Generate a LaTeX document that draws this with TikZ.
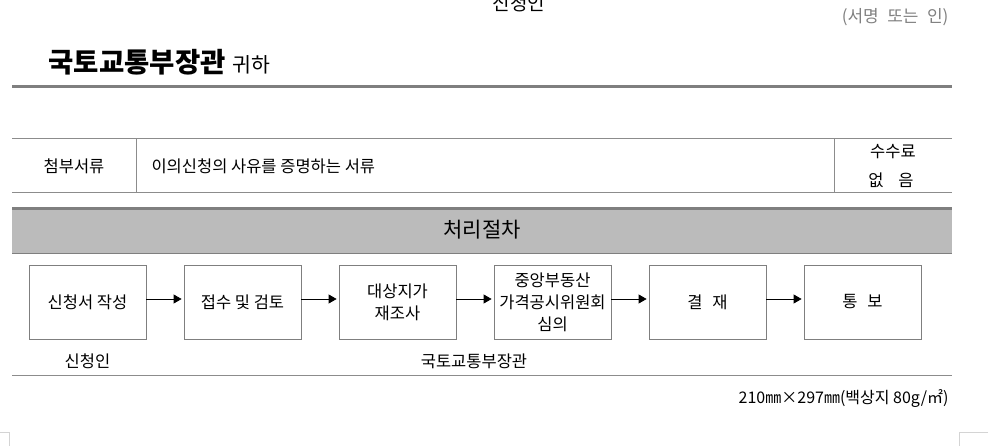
\documentclass[tikz,border=0pt]{standalone}
\usepackage{fontspec}
\setmainfont{Noto Sans CJK KR}
\usetikzlibrary{arrows.meta, positioning}
\definecolor{rulegray}{HTML}{8C8C8C}
\definecolor{bandgray}{HTML}{BBBBBB}
\definecolor{bandedge}{HTML}{7F7F7F}
\definecolor{markgray}{HTML}{D4D4D4}

\begin{document}
\begin{tikzpicture}[x=1pt,y=-1pt,node distance=155pt,on grid,
	font=\fontsize{16.5}{22}\selectfont,
	stepbox/.style={draw=bandedge,line width=0.8pt,minimum width=117pt,minimum height=74pt,inner sep=0pt,align=center},
	flow/.style={-{Triangle[length=8pt,width=9pt]},line width=0.8pt,shorten >=2pt},
	hrule/.style={draw=rulegray,line width=1pt}]
	\useasboundingbox (0,0) rectangle (1000,446);
	% header
	\node[font=\fontsize{19}{22}\selectfont] (applicant) at (519,3) {신청인};
	\node[anchor=east,text=gray,font=\fontsize{17}{20}\selectfont] (sign) at (952,17) {(서명\hspace{0.5em}또는\hspace{0.5em}인)};
	\node[anchor=west,font=\bfseries\fontsize{27.5}{30}\selectfont] (minister) at (45,62) {국토교통부장관};
	\node[anchor=base west,font=\fontsize{20.5}{24}\selectfont] (dear) at (minister.base east) {귀하};
	\draw[line width=3pt,draw=bandedge] (12,87) -- (952,87);
	% attachments
	\draw[hrule] (12,139) -- (952,139);
	\draw[hrule] (12,193) -- (952,193);
	\draw[hrule] (136,139) -- (136,193);
	\draw[hrule] (834,139) -- (834,193);
	\node (attach) at (74,166) {첨부서류};
	\node[anchor=west] (attachtext) at (148,166) {이의신청의 사유를 증명하는 서류};
	\node (fee) at (893,152) {수수료};
	\node (feenone) at (891,180) {없\hspace{0.9em}음};
	% procedure
	\fill[bandgray] (12,209) rectangle (952,253);
	\draw[line width=3pt,draw=bandedge] (12,209) -- (952,209);
	\draw[draw=bandedge,line width=0.8pt] (12,253) -- (952,253);
	\node[font=\fontsize{21}{24}\selectfont] (procedure) at (482,230) {처리절차};
	\node[stepbox] (write) at (87.5,302) {신청서 작성};
	\node[stepbox,right=of write] (receive) {접수 및 검토};
	\node[stepbox,right=of receive] (resurvey) {대상지가\\재조사};
	\node[stepbox,right=of resurvey] (committee) {중앙부동산\\가격공시위원회\\심의};
	\node[stepbox,right=of committee] (approve) {결\hspace{0.6em}재};
	\node[stepbox,right=of approve] (notify) {통\hspace{0.6em}보};
	\foreach \a/\b in {write/receive,receive/resurvey,resurvey/committee,committee/approve,approve/notify}
		\draw[flow] ([yshift=3pt]\a.east) -- ([yshift=3pt]\b.west);
	\node[below=59pt of write] (applicantrole) {신청인};
	\node (ministerrole) at (474,361) {국토교통부장관};
	\draw[hrule] (12,375) -- (952,375);
	\node[anchor=east,font=\fontsize{16}{20}\selectfont] (paper) at (952,399) {210㎜×297㎜(백상지 80g/㎡)};
	% page corners
	\draw[markgray] (0,432) -- (9,432) -- (9,446);
	\draw[markgray] (988,432) -- (959,432) -- (959,446);
\end{tikzpicture}
\end{document}
